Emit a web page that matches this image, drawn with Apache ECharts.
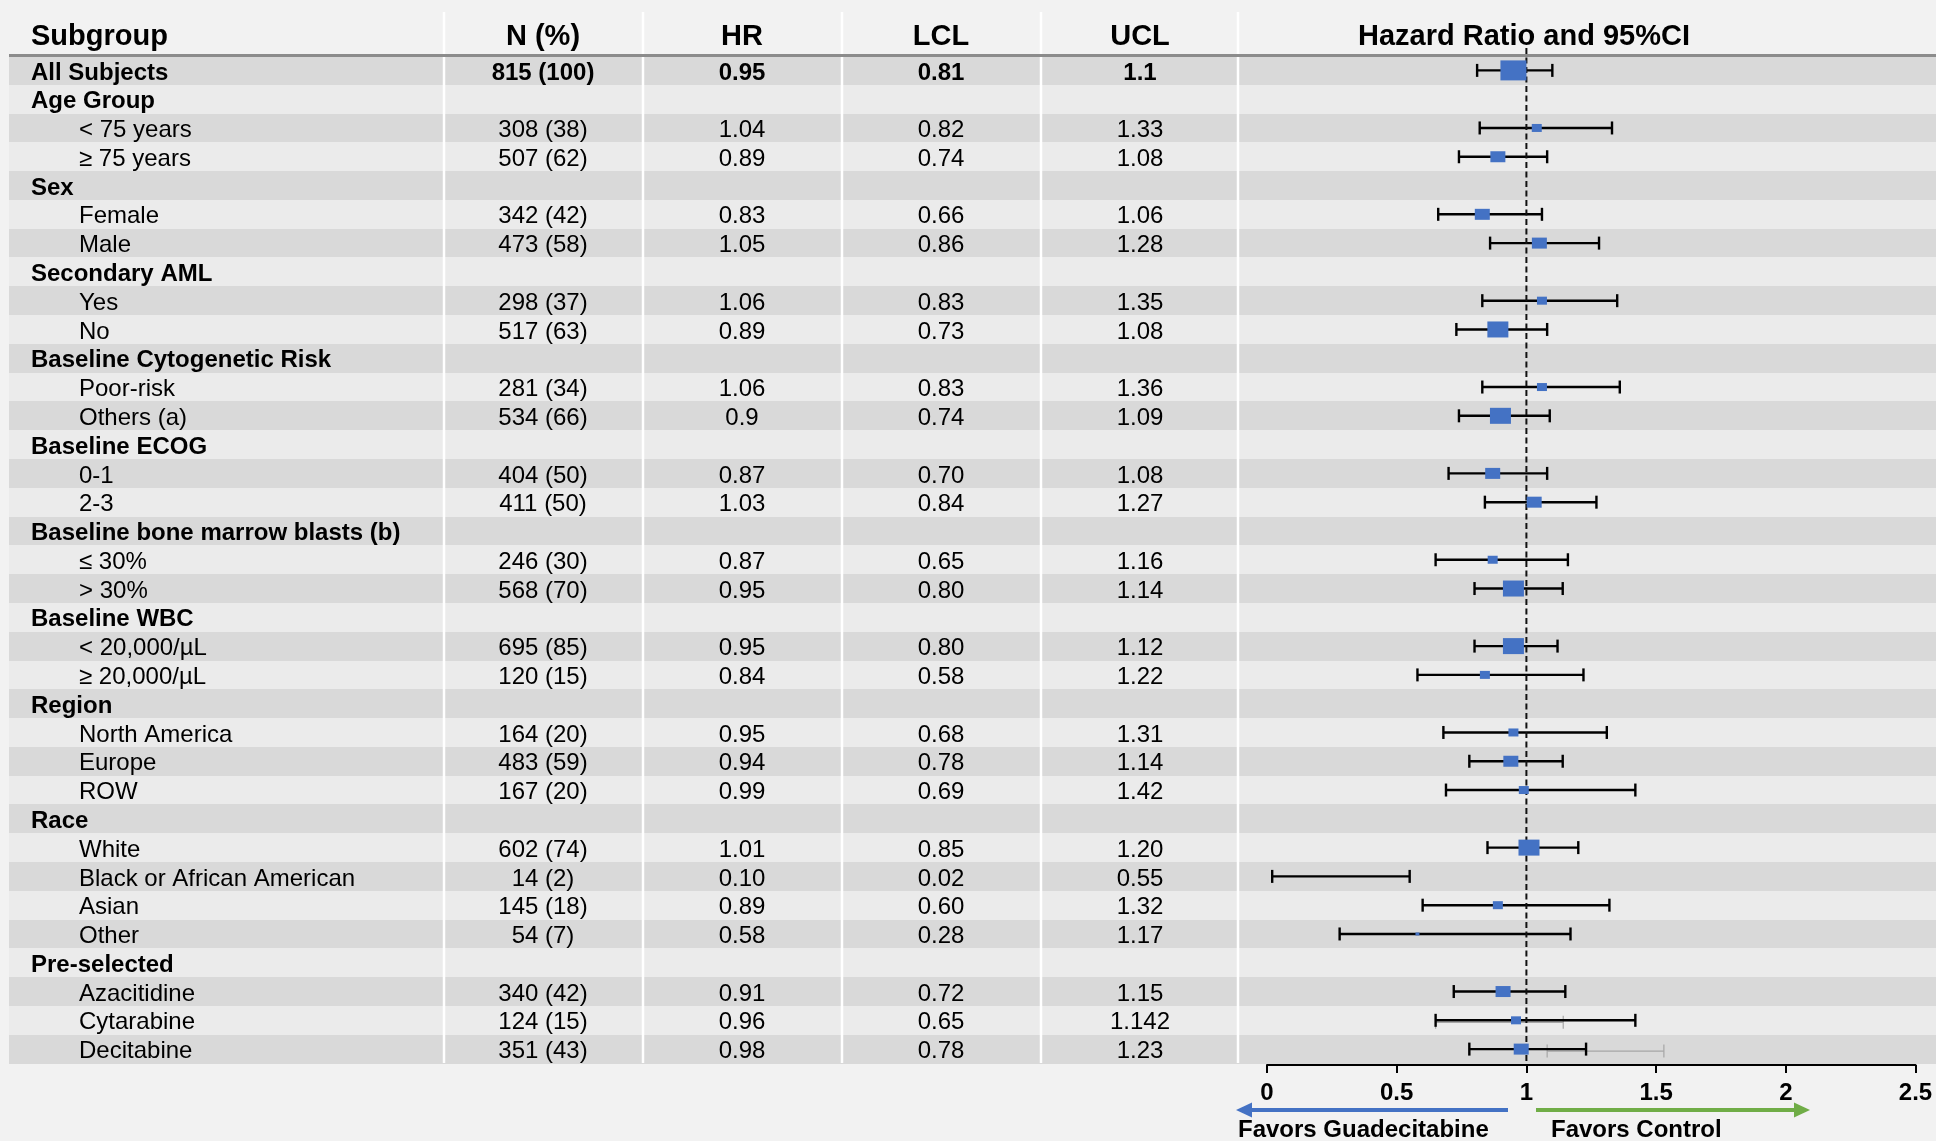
<!DOCTYPE html>
<html>
<head>
<meta charset="utf-8">
<script src="https://cdn.jsdelivr.net/npm/echarts/dist/echarts.min.js"></script>
<style>
html,body{margin:0;padding:0;background:#f2f2f2;}
#c{width:1936px;height:1141px;}
</style>
</head>
<body>
<div id="c"></div>
<script>
// ---------------- DATA ----------------
const subgroups = ['All Subjects','Age Group','< 75 years','≥ 75 years','Sex','Female','Male',
  'Secondary AML','Yes','No','Baseline Cytogenetic Risk','Poor-risk','Others (a)',
  'Baseline ECOG','0-1','2-3','Baseline bone marrow blasts (b)','≤ 30%','> 30%',
  'Baseline WBC','< 20,000/µL','≥ 20,000/µL','Region','North America','Europe','ROW',
  'Race','White','Black or African American','Asian','Other',
  'Pre-selected','Azacitidine','Cytarabine','Decitabine'];
// 0 = bold heading row, 1 = indented sub row
const levels = [0,0,1,1,0,1,1,0,1,1,0,1,1,0,1,1,0,1,1,0,1,1,0,1,1,1,0,1,1,1,1,0,1,1,1];
const nText = ['815 (100)','','308 (38)','507 (62)','','342 (42)','473 (58)','','298 (37)','517 (63)',
  '','281 (34)','534 (66)','','404 (50)','411 (50)','','246 (30)','568 (70)','','695 (85)','120 (15)',
  '','164 (20)','483 (59)','167 (20)','','602 (74)','14 (2)','145 (18)','54 (7)','','340 (42)','124 (15)','351 (43)'];
const nValues = [815,null,308,507,null,342,473,null,298,517,null,281,534,null,404,411,null,246,568,null,
  695,120,null,164,483,167,null,602,14,145,54,null,340,124,351];
const hrText = ['0.95','','1.04','0.89','','0.83','1.05','','1.06','0.89','','1.06','0.9','','0.87','1.03',
  '','0.87','0.95','','0.95','0.84','','0.95','0.94','0.99','','1.01','0.10','0.89','0.58','','0.91','0.96','0.98'];
const lclText = ['0.81','','0.82','0.74','','0.66','0.86','','0.83','0.73','','0.83','0.74','','0.70','0.84',
  '','0.65','0.80','','0.80','0.58','','0.68','0.78','0.69','','0.85','0.02','0.60','0.28','','0.72','0.65','0.78'];
const uclText = ['1.1','','1.33','1.08','','1.06','1.28','','1.35','1.08','','1.36','1.09','','1.08','1.27',
  '','1.16','1.14','','1.12','1.22','','1.31','1.14','1.42','','1.20','0.55','1.32','1.17','','1.15','1.142','1.23'];
// plotted values (the drawn interval for Cytarabine ends at 1.42)
const hrPlot = [0.95,null,1.04,0.89,null,0.83,1.05,null,1.06,0.89,null,1.06,0.9,null,0.87,1.03,null,0.87,0.95,null,
  0.95,0.84,null,0.95,0.94,0.99,null,1.01,0.10,0.89,0.58,null,0.91,0.96,0.98];
const lclPlot = [0.81,null,0.82,0.74,null,0.66,0.86,null,0.83,0.73,null,0.83,0.74,null,0.70,0.84,null,0.65,0.80,null,
  0.80,0.58,null,0.68,0.78,0.69,null,0.85,0.02,0.60,0.28,null,0.72,0.65,0.78];
const uclPlot = [1.1,null,1.33,1.08,null,1.06,1.28,null,1.35,1.08,null,1.36,1.09,null,1.08,1.27,null,1.16,1.14,null,
  1.12,1.22,null,1.31,1.14,1.42,null,1.20,0.55,1.32,1.17,null,1.15,1.42,1.23];
// faint grey leftover intervals visible in the picture
const ghostRows = [33, 34];
const ghostLow = [0.65, 1.08];
const ghostHigh = [1.142, 1.53];
const xTickLabels = ['0','0.5','1','1.5','2','2.5'];
const refValue = 1;
const headers = ['Subgroup','N (%)','HR','LCL','UCL','Hazard Ratio and 95%CI'];
const favorsLeft = 'Favors Guadecitabine';
const favorsRight = 'Favors Control';

// ---------------- STYLE / LAYOUT ----------------
const FONT = '"Liberation Sans", Arial, Helvetica, sans-serif';
const BLUE = '#4472c4', GREEN = '#70ad47';
const tableLeft = 9, W = 1936;
const labelX = [31, 79];
const colX = [543, 742, 941, 1140];
const sepX = [444, 643, 842, 1041, 1238];
const headerY = 36.5;
const headerFont = 'bold 29px ' + FONT;
const textDy = 2.5;

function markerSize(n) {
  if (n == null || n < 30) return [0, 0];
  if (n >= 800) return [26, 20];
  if (n >= 510) return [21, 16];
  if (n >= 330) return [15, 11];
  if (n >= 100) return [10, 8];
  return [4, 3];
}

const rowIdx = subgroups.map((s, i) => i);

const bandData = rowIdx.map(i => [0, i]);
const textData = rowIdx.map(i => [0, i]);
const ciData = [];
const markerData = [];
rowIdx.forEach(i => {
  if (hrPlot[i] != null) {
    ciData.push([lclPlot[i], uclPlot[i], i]);
    markerData.push([hrPlot[i], i, nValues[i]]);
  }
});
const ghostData = ghostRows.map((r, k) => [ghostLow[k], ghostHigh[k], r]);

const chart = echarts.init(document.getElementById('c'), null, {renderer: 'canvas'});

function ciRender(color, width, cap, dy) {
  return function (params, api) {
    const r = api.value(2);
    const lo = api.coord([api.value(0), r]);
    const hi = api.coord([api.value(1), r]);
    const y = lo[1] + dy;
    const st = {stroke: color, lineWidth: width};
    return {type: 'group', children: [
      {type: 'line', shape: {x1: lo[0], y1: y, x2: hi[0], y2: y}, style: st},
      {type: 'line', shape: {x1: lo[0], y1: y - cap, x2: lo[0], y2: y + cap}, style: st},
      {type: 'line', shape: {x1: hi[0], y1: y - cap, x2: hi[0], y2: y + cap}, style: st}
    ]};
  };
}

const graphics = [];
// header line
graphics.push({type: 'line', z: 8, shape: {x1: tableLeft, y1: 55.5, x2: W, y2: 55.5},
  style: {stroke: '#8c8c8c', lineWidth: 3}, silent: true});
// column separators
sepX.forEach(x => graphics.push({type: 'line', z: 7, shape: {x1: x, y1: 12, x2: x, y2: 1063},
  style: {stroke: '#ffffff', lineWidth: 2.5}, silent: true}));
// header texts
graphics.push({type: 'text', z: 9, x: labelX[0], y: headerY, style: {text: headers[0], fill: '#000',
  font: headerFont, align: 'left', verticalAlign: 'middle'}});
colX.forEach((x, k) => graphics.push({type: 'text', z: 9, x: x, y: headerY, style: {text: headers[k + 1], fill: '#000',
  font: headerFont, align: 'center', verticalAlign: 'middle'}}));
graphics.push({type: 'text', z: 9, x: 1524, y: headerY, style: {text: headers[5], fill: '#000',
  font: headerFont, align: 'center', verticalAlign: 'middle'}});
// direction arrows
graphics.push({type: 'line', z: 9, shape: {x1: 1508, y1: 1110, x2: 1249, y2: 1110}, style: {stroke: BLUE, lineWidth: 4}});
graphics.push({type: 'polygon', z: 9, shape: {points: [[1236, 1110], [1252, 1102.5], [1252, 1117.5]]}, style: {fill: BLUE}});
graphics.push({type: 'line', z: 9, shape: {x1: 1536, y1: 1110, x2: 1797, y2: 1110}, style: {stroke: GREEN, lineWidth: 4}});
graphics.push({type: 'polygon', z: 9, shape: {points: [[1810, 1110], [1794, 1102.5], [1794, 1117.5]]}, style: {fill: GREEN}});
graphics.push({type: 'text', z: 9, x: 1238, y: 1130, style: {text: favorsLeft, fill: '#000',
  font: 'bold 24px ' + FONT, align: 'left', verticalAlign: 'middle'}});
graphics.push({type: 'text', z: 9, x: 1551, y: 1130, style: {text: favorsRight, fill: '#000',
  font: 'bold 24px ' + FONT, align: 'left', verticalAlign: 'middle'}});

const option = {
  backgroundColor: '#f2f2f2',
  animation: false,
  textStyle: {fontFamily: FONT},
  grid: {left: 1267, top: 56, width: 648.5, height: 1007.5, outerBoundsMode: 'none', containLabel: false},
  xAxis: {
    type: 'value', min: 0, max: 2.5, interval: 0.5, offset: 1.5,
    axisLine: {show: true, onZero: false, lineStyle: {color: '#000', width: 2}},
    axisTick: {show: true, inside: false, length: 8, lineStyle: {color: '#000', width: 2}},
    axisLabel: {show: true, color: '#000', fontSize: 24, fontWeight: 'bold', fontFamily: FONT, margin: 16,
      formatter: v => xTickLabels[Math.round(v / 0.5)]},
    splitLine: {show: false}
  },
  yAxis: {
    type: 'category', data: subgroups, inverse: true, boundaryGap: true,
    axisLine: {show: false}, axisTick: {show: false}, axisLabel: {show: false}, splitLine: {show: false}
  },
  graphic: {elements: graphics},
  series: [
    {
      type: 'custom', name: 'bands', z: 1, silent: true, clip: false,
      encode: {x: 0, y: 1}, data: bandData,
      renderItem: (params, api) => {
        const i = api.value(1);
        const c = api.coord([0, i])[1];
        const h = api.size([0, 1])[1];
        const y0 = Math.round(c - h / 2), y1 = Math.round(c + h / 2);
        return {type: 'rect', shape: {x: tableLeft, y: y0, width: W - tableLeft, height: y1 - y0},
          style: {fill: i % 2 === 0 ? '#d9d9d9' : '#ebebeb'}};
      }
    },
    {
      type: 'custom', name: 'table', z: 10, silent: true, clip: false,
      encode: {x: 0, y: 1}, data: textData,
      renderItem: (params, api) => {
        const i = api.value(1);
        const y = api.coord([0, i])[1] + textDy;
        const bold = levels[i] === 0;
        const rowBold = i === 0;
        const f1 = (bold ? 'bold ' : '') + '24px ' + FONT;
        const f2 = (rowBold ? 'bold ' : '') + '24px ' + FONT;
        const kids = [{type: 'text', x: labelX[levels[i]], y: y, style: {text: subgroups[i], fill: '#000',
          font: f1, align: 'left', verticalAlign: 'middle'}}];
        [nText[i], hrText[i], lclText[i], uclText[i]].forEach((t, k) => {
          if (t) kids.push({type: 'text', x: colX[k], y: y, style: {text: t, fill: '#000', font: f2,
            align: 'center', verticalAlign: 'middle'}});
        });
        return {type: 'group', children: kids};
      }
    },
    {
      type: 'custom', name: 'ghost', z: 3, silent: true, clip: false,
      encode: {x: [0, 1], y: 2}, data: ghostData,
      renderItem: ciRender('#a6a6a6', 1.2, 6.5, 2)
    },
    {
      type: 'custom', name: 'ci', z: 4, silent: true, clip: false,
      encode: {x: [0, 1], y: 2}, data: ciData,
      renderItem: ciRender('#000', 2.4, 6.5, 0)
    },
    {
      type: 'custom', name: 'ref', z: 5, silent: true, clip: false,
      data: [[refValue, 0]], encode: {x: 0, y: 1},
      renderItem: (params, api) => {
        const x = api.coord([api.value(0), 0])[0];
        return {type: 'line', shape: {x1: x, y1: 48, x2: x, y2: 1064},
          style: {stroke: '#111', lineWidth: 2, lineDash: [6, 3.5]}};
      }
    },
    {
      type: 'scatter', name: 'HR', z: 6, silent: true,
      data: markerData, encode: {x: 0, y: 1},
      symbol: 'rect',
      symbolSize: v => markerSize(v[2]),
      itemStyle: {color: BLUE, opacity: 1},
      emphasis: {disabled: true}
    }
  ]
};
chart.setOption(option);
</script>
</body>
</html>
